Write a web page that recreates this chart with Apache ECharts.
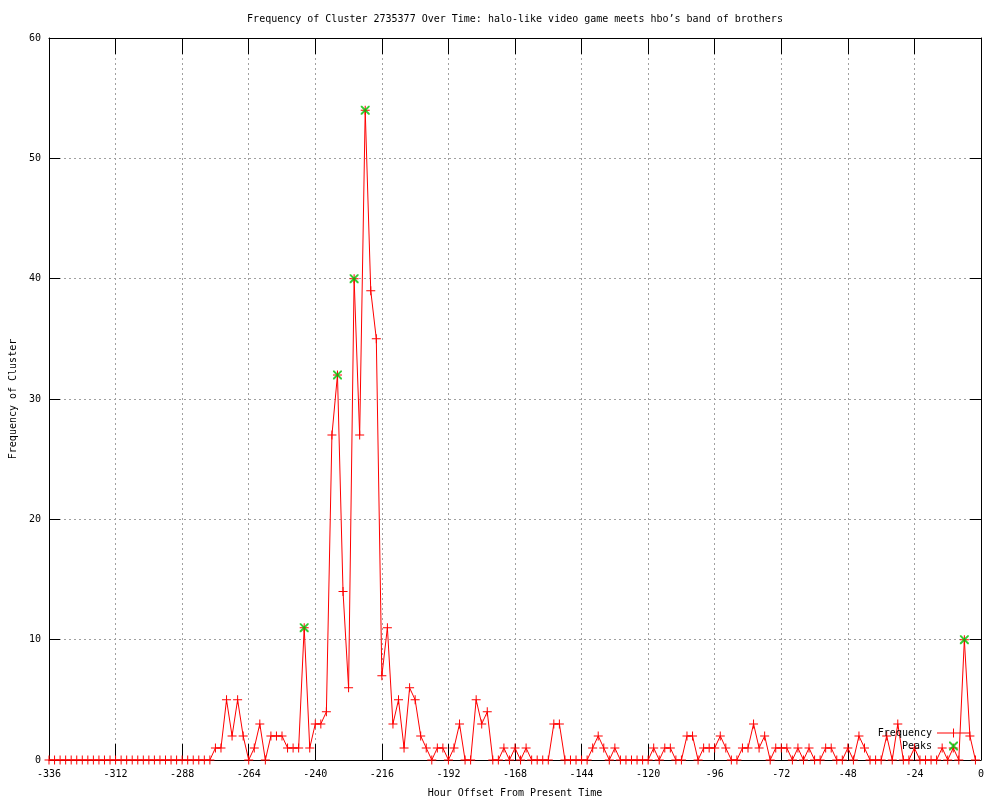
<!DOCTYPE html>
<html>
<head>
<meta charset="utf-8">
<script src="https://cdn.jsdelivr.net/npm/echarts@6/dist/echarts.min.js"></script>
<style>
  html, body { margin: 0; padding: 0; background: #fff; }
  #chart { width: 1000px; height: 800px; }
</style>
</head>
<body>
<div id="chart"></div>
<script>
// ---- Data ----
const titleText = "Frequency of Cluster 2735377 Over Time: halo-like video game meets hbo\u2019s band of brothers";
const xAxisName = "Hour Offset From Present Time";
const yAxisName = "Frequency of Cluster";

// sample hours: every 2 hours from -336 to -2
const firstHour = -336;
const hourStep = 2;

// frequency at each sample hour (-336, -334, ..., -2)
const frequency = [
  0,0,0,0,0,0,0,0,0,0, 0,0,0,0,0,0,0,0,0,0, 0,0,0,0,0,0,0,0,0,0,   // -336 .. -278
  1,1,5,2,5,2,0,1,3,0,          // -276 .. -258
  2,2,2,1,1,1,11,1,3,3,         // -256 .. -238
  4,27,32,14,6,40,27,54,39,35,  // -236 .. -218
  7,11,3,5,1,6,5,2,1,0,         // -216 .. -198
  1,1,0,1,3,0,0,5,3,4,          // -196 .. -178
  0,0,1,0,1,0,1,0,0,0,          // -176 .. -158
  0,3,3,0,0,0,0,0,1,2,          // -156 .. -138
  1,0,1,0,0,0,0,0,0,1,          // -136 .. -118
  0,1,1,0,0,2,2,0,1,1,          // -116 .. -98
  1,2,1,0,0,1,1,3,1,2,          // -96 .. -78
  0,1,1,1,0,1,0,1,0,0,          // -76 .. -58
  1,1,0,0,1,0,2,1,0,0,          // -56 .. -38
  0,2,0,3,0,0,1,0,0,0,          // -36 .. -18
  0,1,0,1,0,10,2,0              // -16 .. -2
];

// detected peaks
const peakHours = [-244, -232, -226, -222, -6];
const peakValues = [11, 32, 40, 54, 10];

// axis ticks
const xMin = -336, xMax = 0, xInterval = 24;
const yMin = 0, yMax = 60, yInterval = 10;

// ---- Build series data ----
const freqData = frequency.map((v, i) => [firstHour + i * hourStep, v]);
const peakData = peakHours.map((h, i) => [h, peakValues[i]]);

const FONT = "'DejaVu Sans Mono', monospace";
const plusPath = 'path://M4,0h1v9h-1z M0,4h9v1h-9z';
const crossPath = 'path://M0,0L1.4,0L9,7.6L9,9L7.6,9L0,1.4Z M7.6,0L9,0L9,1.4L1.4,9L0,9L0,7.6Z';
const freqLegendIcon = 'path://M0,4h33v1h-33z M16,0h1v9h-1z';
const peakLegendIcon = 'path://M0,0 M33,9 M12,0L13.4,0L21,7.6L21,9L19.6,9L12,1.4Z M19.6,0L21,0L21,1.4L13.4,9L12,9L12,7.6Z';

const gridLine = { show: true, lineStyle: { color: '#a0a0a0', type: [2, 3], width: 1 } };
const axisLineStyle = { show: true, onZero: false, lineStyle: { color: '#000', width: 1 } };

const chart = echarts.init(document.getElementById('chart'), null, { renderer: 'canvas' });
chart.setOption({
  animation: false,
  backgroundColor: '#fff',
  title: {
    text: titleText,
    left: 510,
    top: 9,
    textAlign: 'center',
    textStyle: { fontFamily: FONT, fontSize: 10, fontWeight: 'normal', color: '#000' }
  },
  grid: { left: 49, right: 19, top: 38, bottom: 40, containLabel: false, outerBoundsMode: 'none' },
  legend: [
    {
      data: [{ name: 'Frequency', icon: freqLegendIcon }],
      right: 30, top: 728, orient: 'vertical', align: 'right',
      itemWidth: 33, itemHeight: 9, selectedMode: false, padding: 0,
      textStyle: { fontFamily: FONT, fontSize: 10, color: '#000' }
    },
    {
      data: [{ name: 'Peaks', icon: peakLegendIcon }],
      right: 30, top: 741, orient: 'vertical', align: 'right',
      itemWidth: 33, itemHeight: 9, selectedMode: false, padding: 0,
      textStyle: { fontFamily: FONT, fontSize: 10, color: '#000' }
    }
  ],
  xAxis: [
    {
      type: 'value', position: 'bottom', min: xMin, max: xMax, interval: xInterval,
      name: xAxisName, nameLocation: 'middle', nameGap: 28,
      nameTextStyle: { fontFamily: FONT, fontSize: 10, color: '#000' },
      axisLine: axisLineStyle,
      axisTick: { show: true, inside: true, length: 16, lineStyle: { color: '#000' } },
      axisLabel: { margin: 9, fontFamily: FONT, fontSize: 10, color: '#000' },
      splitLine: gridLine
    },
    {
      type: 'value', position: 'top', min: xMin, max: xMax, interval: xInterval,
      axisLine: axisLineStyle,
      axisTick: { show: true, inside: true, length: 16, lineStyle: { color: '#000' } },
      axisLabel: { show: false },
      splitLine: { show: false }
    }
  ],
  yAxis: [
    {
      type: 'value', position: 'left', min: yMin, max: yMax, interval: yInterval,
      name: yAxisName, nameLocation: 'middle', nameGap: 30, nameRotate: 90,
      nameTextStyle: { fontFamily: FONT, fontSize: 10, color: '#000' },
      axisLine: axisLineStyle,
      axisTick: { show: true, inside: true, length: 11, lineStyle: { color: '#000' } },
      axisLabel: { margin: 8, fontFamily: FONT, fontSize: 10, color: '#000' },
      splitLine: gridLine
    },
    {
      type: 'value', position: 'right', min: yMin, max: yMax, interval: yInterval,
      axisLine: axisLineStyle,
      axisTick: { show: true, inside: true, length: 11, lineStyle: { color: '#000' } },
      axisLabel: { show: false },
      splitLine: { show: false }
    }
  ],
  series: [
    {
      name: 'Frequency', type: 'line', data: freqData,
      xAxisIndex: 0, yAxisIndex: 0,
      symbol: plusPath, symbolSize: 9, showSymbol: true, showAllSymbol: true,
      clip: false,
      itemStyle: { color: '#ff0000' },
      lineStyle: { color: '#ff0000', width: 1 },
      z: 3
    },
    {
      name: 'Peaks', type: 'scatter', data: peakData,
      xAxisIndex: 0, yAxisIndex: 0,
      symbol: crossPath, symbolSize: 9,
      itemStyle: { color: '#00c000' },
      z: 4
    }
  ]
});
</script>
</body>
</html>
